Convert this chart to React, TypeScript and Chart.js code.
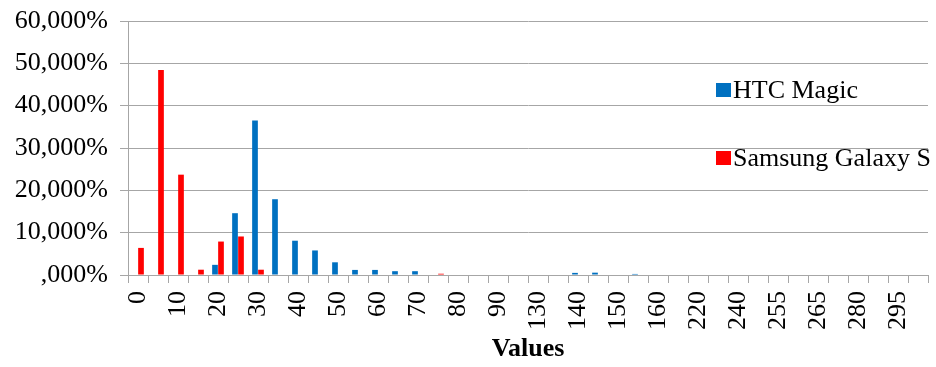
import React, { useEffect, useRef } from "react";
import { Chart, registerables } from "chart.js";

Chart.register(...registerables);

// Bins of the measured values (only every other bin is labelled on the axis)
const categories: string[] = [
  "0", "5", "10", "15", "20", "25", "30", "35", "40", "45",
  "50", "55", "60", "65", "70", "75", "80", "85", "90", "100",
  "130", "135", "140", "145", "150", "155", "160", "200", "220", "230",
  "240", "250", "255", "260", "265", "270", "280", "290", "295", "300",
];

// Share of samples per bin, in percent
const htcMagic: number[] = [
  0, 0, 0, 0, 2.4, 14.6, 36.5, 17.9, 8.1, 5.8,
  3.0, 1.2, 1.2, 0.9, 0.9, 0, 0, 0, 0, 0,
  0, 0, 0.5, 0.55, 0, 0.25, 0, 0, 0, 0,
  0, 0, 0, 0, 0, 0, 0, 0, 0, 0,
];

const samsungGalaxyS: number[] = [
  6.4, 48.4, 23.7, 1.25, 7.9, 9.1, 1.25, 0, 0, 0,
  0, 0, 0, 0, 0, 0.3, 0, 0, 0, 0,
  0, 0, 0, 0, 0, 0, 0, 0, 0, 0,
  0, 0, 0, 0, 0, 0, 0, 0, 0, 0,
];

const seriesNames: string[] = ["HTC Magic", "Samsung Galaxy S"];
const seriesColors: string[] = ["#0070C0", "#FF0000"];

const yTicks: number[] = [0, 10, 20, 30, 40, 50, 60];

const FONT = '"Liberation Serif", "Times New Roman", serif';
const GRID = "#a6a6a6";

const formatPercent = (v: number): string => {
  const s = v.toFixed(3).replace(".", ",");
  return (s.startsWith("0") ? s.slice(1) : s) + "%";
};

// Legend drawn over the plot area, on the right side
const overlayLegend = {
  id: "overlayLegend",
  afterDraw(chart: Chart) {
    const { ctx } = chart;
    const rows = [90, 158];
    ctx.save();
    ctx.font = `26px ${FONT}`;
    ctx.textBaseline = "middle";
    ctx.textAlign = "left";
    seriesNames.forEach((name, i) => {
      const y = rows[i];
      ctx.fillStyle = seriesColors[i];
      ctx.fillRect(716, y - 7, 15, 14);
      ctx.fillStyle = "#000";
      ctx.fillText(name, 733, y + 1);
    });
    ctx.restore();
  },
};

export default function App() {
  const canvasRef = useRef<HTMLCanvasElement | null>(null);

  useEffect(() => {
    if (!canvasRef.current) return;
    const chart = new Chart(canvasRef.current, {
      type: "bar",
      data: {
        labels: categories,
        datasets: [
          {
            label: seriesNames[0],
            data: htcMagic,
            backgroundColor: seriesColors[0],
            categoryPercentage: 0.6,
            barPercentage: 0.95,
          },
          {
            label: seriesNames[1],
            data: samsungGalaxyS,
            backgroundColor: seriesColors[1],
            categoryPercentage: 0.6,
            barPercentage: 0.95,
          },
        ],
      },
      options: {
        responsive: false,
        animation: false,
        layout: { padding: { top: 0, right: 8, bottom: 0, left: 0 } },
        plugins: {
          legend: { display: false },
          tooltip: { enabled: false },
        },
        scales: {
          x: {
            grid: {
              display: true,
              drawOnChartArea: false,
              offset: true,
              tickLength: 8,
              color: GRID,
            },
            border: { color: GRID, width: 1 },
            ticks: {
              autoSkip: false,
              maxRotation: 90,
              minRotation: 90,
              padding: 8,
              color: "#000",
              font: { family: FONT, size: 26 },
              callback: (_v: any, i: number) => (i % 2 === 0 ? categories[i] : ""),
            },
            title: {
              display: true,
              text: "Values",
              color: "#000",
              font: { family: FONT, size: 26, weight: "bold" },
              padding: { top: 0, bottom: 2 },
            },
            afterFit: (scale: any) => {
              scale.height = 92;
              scale.paddingLeft = 0;
              scale.paddingRight = 0;
            },
          },
          y: {
            min: yTicks[0],
            max: yTicks[yTicks.length - 1],
            afterBuildTicks: (scale: any) => {
              scale.ticks = yTicks.map((v) => ({ value: v }));
            },
            grid: { color: GRID, tickLength: 8, lineWidth: 1 },
            border: { color: GRID, width: 1 },
            ticks: {
              padding: 12,
              color: "#000",
              font: { family: FONT, size: 26 },
              callback: (v: any) => formatPercent(Number(v)),
            },
            afterFit: (scale: any) => {
              scale.width = 128;
              scale.paddingTop = 21;
              scale.paddingBottom = 0;
            },
          },
        },
      },
      plugins: [overlayLegend],
    });
    return () => chart.destroy();
  }, []);

  return (
    <div style={{ position: "absolute", left: 0, top: 0, width: 936, height: 367, background: "#fff" }}>
      <canvas ref={canvasRef} width={936} height={367} />
    </div>
  );
}
